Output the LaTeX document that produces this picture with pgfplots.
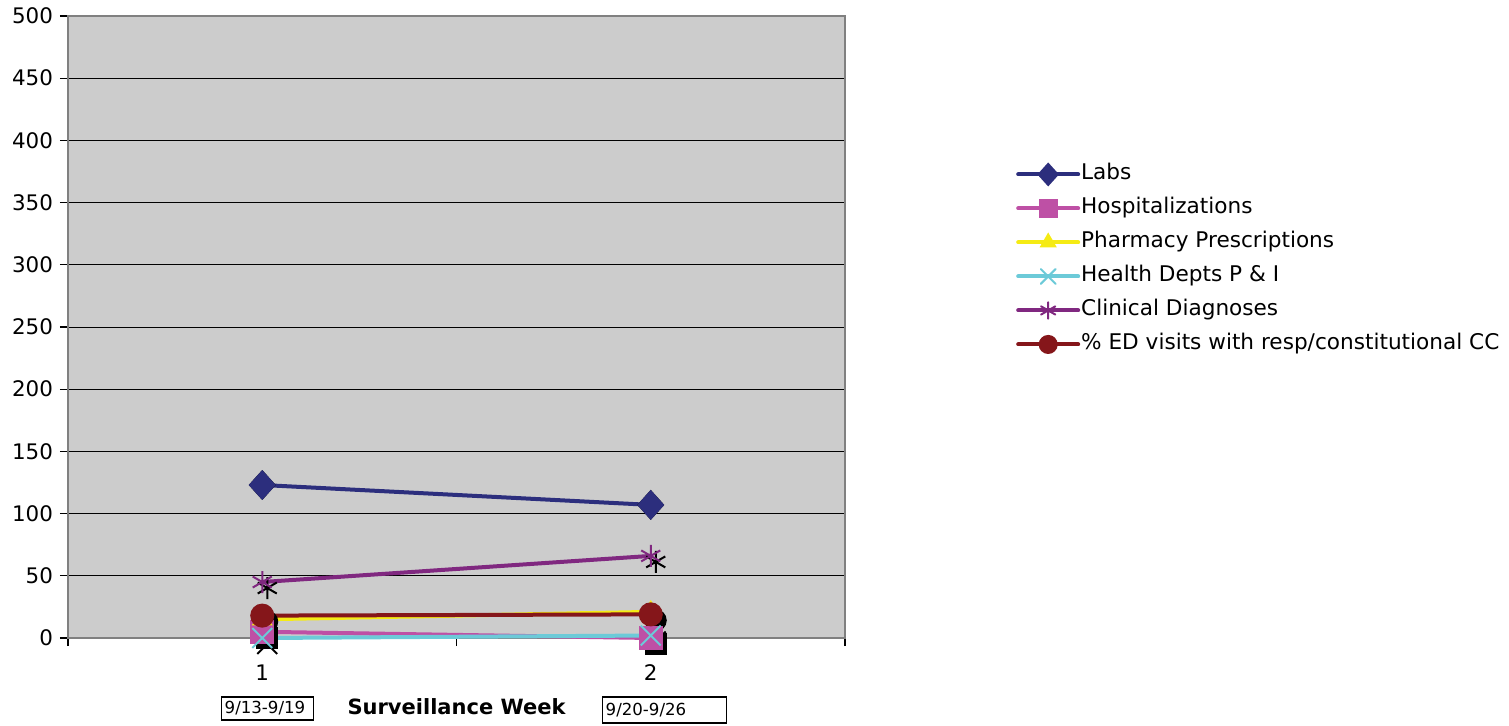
\documentclass[border=0pt]{standalone}
\usepackage{fontspec}
\setmainfont{DejaVu Sans}
\usepackage{pgfplots}
\pgfplotsset{compat=1.18}
\definecolor{labs}{RGB}{44,46,125}
\definecolor{hosp}{RGB}{190,80,165}
\definecolor{pharm}{RGB}{245,235,20}
\definecolor{health}{RGB}{108,202,216}
\definecolor{clin}{RGB}{128,40,128}
\definecolor{ed}{RGB}{133,22,26}
\definecolor{bgc}{RGB}{204,204,204}
\definecolor{frame}{RGB}{128,128,128}
\begin{document}
\begin{tikzpicture}
\useasboundingbox (0,0) rectangle (754.5pt,362.5pt);
\begin{axis}[
  at={(34pt,43.5pt)}, anchor=south west,
  scale only axis, width=388.5pt, height=311pt,
  xmin=0.5, xmax=2.5, ymin=0, ymax=500,
  xtick={0.5,1.5,2.5}, xticklabels={},
  extra x ticks={1,2}, extra x tick labels={1,2},
  extra x tick style={major tick length=0pt},
  ytick={0,50,...,500},
  tick pos=left, tick align=outside,
  major tick length=4pt,
  tick style={black, line width=0.6pt},
  axis line style={draw=frame, line width=1.1pt},
  axis background/.style={fill=bgc},
  ymajorgrids, major grid style={black, line width=0.5pt},
  /pgf/number format/assume math mode=true,
  ticklabel style={font=\fontsize{10.7}{12}\selectfont},
  xticklabel style={yshift=-10pt},
  xlabel={Surveillance Week},
  xlabel style={at={(rel axis cs:0.5,0)}, anchor=center, yshift=-34.5pt, font=\bfseries\fontsize{10.5}{12}\selectfont},
  legend image code/.code={\draw[mark repeat=2,mark phase=2,line cap=round,#1,every mark/.append style={scale=0.75}] plot coordinates {(0pt,0pt) (15pt,0pt) (30pt,0pt)};},
  legend style={at={(rel axis cs:1.2198,0.766)}, anchor=north west, draw=none, fill=none,
    inner sep=0pt, row sep=4.5pt, column sep=0pt,
    font=\fontsize{10.8}{12}\selectfont,
    nodes={inner ysep=1pt, inner xsep=0.5pt, text height=8pt, text depth=2.5pt}},
  legend cell align=left,
  every axis plot/.append style={line width=2pt},
  clip=false,
]
% shadows of the markers
\pgfplotsset{shadow/.style={forget plot, only marks, black, mark options={xshift=2.5pt, yshift=-3pt, line width=1pt}}}
\addplot[shadow, mark=diamond*, mark size=6pt, mark options={xscale=1.2}] coordinates {(1,123) (2,107)};
\addplot[shadow, mark=square*, mark size=5pt] coordinates {(1,5) (2,0)};
\addplot[shadow, mark=triangle*, mark size=4pt] coordinates {(1,15) (2,21)};
\addplot[shadow, mark=x, mark size=7pt] coordinates {(1,0) (2,2)};
\addplot[shadow, mark=asterisk, mark size=5.5pt] coordinates {(1,45) (2,66)};
\addplot[shadow, mark=*, mark size=5pt] coordinates {(1,18) (2,19)};
% series
\addplot[labs, mark=diamond*, mark size=6pt, mark options={solid, fill=labs, xscale=1.2}] coordinates {(1,123) (2,107)};
\addlegendentry{Labs}
\addplot[hosp, mark=square*, mark size=5pt, mark options={fill=hosp}] coordinates {(1,5) (2,0)};
\addlegendentry{Hospitalizations}
\addplot[pharm, mark=triangle*, mark size=4pt, mark options={fill=pharm}] coordinates {(1,15) (2,21)};
\addlegendentry{Pharmacy Prescriptions}
\addplot[health, mark=x, mark size=7pt, mark options={line width=1pt}] coordinates {(1,0) (2,2)};
\addlegendentry{Health Depts P \& I}
\addplot[clin, mark=asterisk, mark size=5.5pt, mark options={line width=1pt}] coordinates {(1,45) (2,66)};
\addlegendentry{Clinical Diagnoses}
\addplot[ed, mark=*, mark size=5pt, mark options={fill=ed}] coordinates {(1,18) (2,19)};
\addlegendentry{\% ED visits with resp/constitutional CC}
\end{axis}
\node[draw=black, line width=0.7pt, anchor=west, inner xsep=1.5pt, inner ysep=0pt,
      minimum height=11.5pt, text width=43pt, align=left, font=\fontsize{8.3}{9}\selectfont]
      at (110.5pt,8.25pt) {9/13-9/19};
\node[draw=black, line width=0.7pt, anchor=west, inner xsep=1.5pt, inner ysep=0pt,
      minimum height=13pt, text width=59pt, align=left, font=\fontsize{8.3}{9}\selectfont]
      at (301pt,7.5pt) {9/20-9/26};
\end{tikzpicture}
\end{document}
